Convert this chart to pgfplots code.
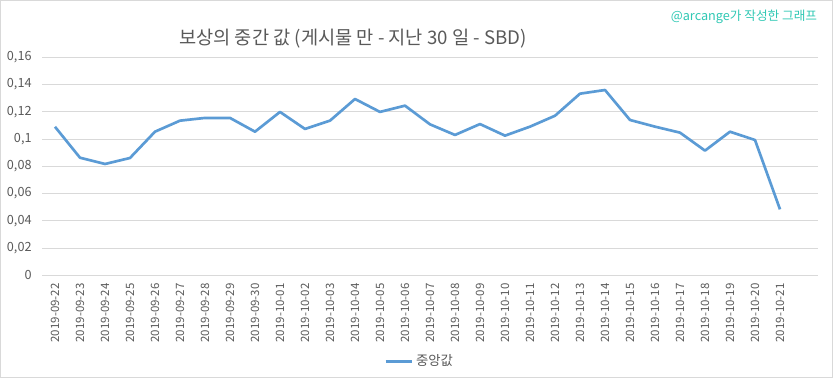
\documentclass[border=0pt]{standalone}
\usepackage{pgfplots}
\pgfplotsset{compat=1.18}
\usepackage{fontspec}
\setmainfont{Noto Sans CJK KR}
\definecolor{linec}{HTML}{5B9BD5}
\definecolor{gridc}{HTML}{D9D9D9}
\definecolor{txt}{HTML}{595959}
\definecolor{wm}{HTML}{30C8B4}
\begin{document}
\begin{tikzpicture}[x=0.75pt,y=0.75pt]
\path[use as bounding box] (0,0) rectangle (833,378);
\draw[gridc, line width=0.75pt] (0.5,0.5) rectangle (832.5,377.5);
\node[txt, font=\fontsize{14}{16}\selectfont] at (353,339) {보상의 중간 값 (게시물 만 - 지난 30 일 - SBD)};
\node[wm, font=\fontsize{9.5}{11}\selectfont] at (744,361) {@arcange가 작성한 그래프};
\begin{axis}[
  at={(31.875pt,77.025pt)}, anchor=south west,
  scale only axis, width=581.25pt, height=163.5pt,
  xmin=-0.5, xmax=30.5, ymin=0, ymax=0.16,
  ytick={0,0.02,0.04,0.06,0.08,0.1,0.12,0.14,0.16},
  scaled y ticks=false,
  xtick=data,
  xticklabels={2019-09-22,2019-09-23,2019-09-24,2019-09-25,2019-09-26,2019-09-27,2019-09-28,2019-09-29,2019-09-30,2019-10-01,2019-10-02,2019-10-03,2019-10-04,2019-10-05,2019-10-06,2019-10-07,2019-10-08,2019-10-09,2019-10-10,2019-10-11,2019-10-12,2019-10-13,2019-10-14,2019-10-15,2019-10-16,2019-10-17,2019-10-18,2019-10-19,2019-10-20,2019-10-21},
  /pgf/number format/assume math mode=true,
  /pgf/number format/fixed,
  /pgf/number format/precision=2,
  /pgf/number format/use comma,
  axis line style={draw=none},
  ymajorgrids, grid style={gridc, line width=0.75pt},
  major tick length=0pt,
  tick label style={txt},
  yticklabel style={font=\fontsize{9.5}{10}\selectfont, anchor=east, inner sep=0pt, xshift=-8pt},
  xticklabel style={font=\fontsize{8.6}{10}\selectfont, rotate=90, anchor=east, inner ysep=0pt, inner xsep=6pt},
  legend style={at={(0.487,-0.395)}, anchor=center, draw=none, fill=none, font=\fontsize{10}{11}\selectfont\color{txt}},
  legend image code/.code={\draw[#1, line width=2pt] (0pt,0pt) -- (20pt,0pt);},
]
\addplot[linec, line width=2pt, line join=round] coordinates {
(0,0.109) (1,0.0863) (2,0.0817) (3,0.0861) (4,0.1054) (5,0.1135) (6,0.1155) (7,0.1155) (8,0.1054) (9,0.1199)
(10,0.1074) (11,0.1135) (12,0.1294) (13,0.1199) (14,0.1245) (15,0.1108) (16,0.1030) (17,0.1110) (18,0.1025) (19,0.1091)
(20,0.1171) (21,0.1333) (22,0.1360) (23,0.1140) (24,0.1091) (25,0.1047) (26,0.0915) (27,0.1054) (28,0.0993) (29,0.0484)
};
\addlegendentry{중앙값}
\end{axis}
\end{tikzpicture}
\end{document}
